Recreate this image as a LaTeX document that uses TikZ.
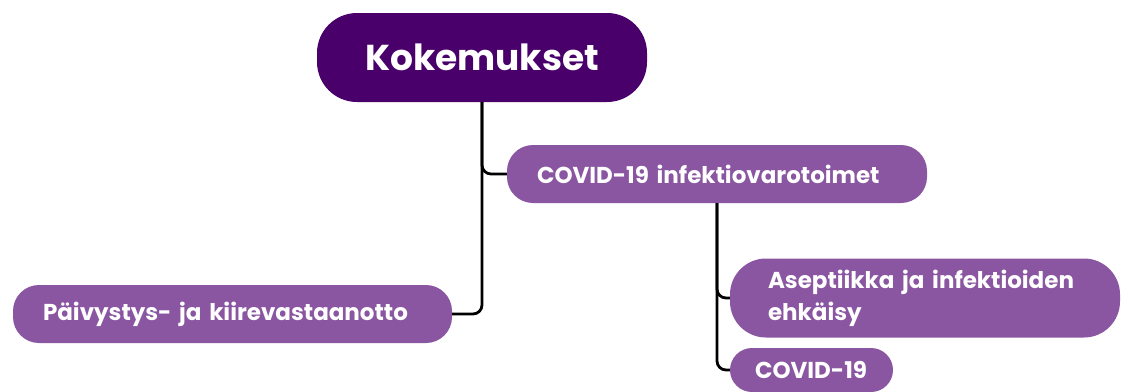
\documentclass[tikz,border=0pt]{standalone}
\usepackage{fontspec}
\setmainfont{Poppins}
\usetikzlibrary{positioning}
\definecolor{deeppurple}{HTML}{4A006B}
\definecolor{softpurple}{HTML}{8A56A1}

\begin{document}
\begin{tikzpicture}[x=1pt, y=-1pt,
  mainbox/.style={rectangle, rounded corners=40pt, fill=deeppurple, text=white, font=\fontsize{36}{40}\selectfont\bfseries, minimum width=330pt, minimum height=89pt},
  subbox/.style={rectangle, rounded corners=26pt, fill=softpurple, text=white, font=\fontsize{23}{32}\selectfont\bfseries, minimum height=58pt, inner xsep=30pt, inner ysep=0pt, align=left},
  link/.style={-, line width=2.8pt, black, rounded corners=9pt}]
\useasboundingbox (0,0) rectangle (1131,391);

\node[mainbox] (koke) at (482,57.5) {Kokemukset};
\node[subbox, text width=360pt] (covid) at (717,174) {COVID-19 infektiovarotoimet};
\node[subbox, text width=379pt] (paiv) at (232.5,314) {Päivystys- ja kiirevastaanotto};
\node[subbox, rounded corners=36pt, inner xsep=38pt, text width=314pt, minimum height=79pt] (asep) at (925,298) {Aseptiikka ja infektioiden\\ehkäisy};
\node[subbox, rounded corners=22pt, inner xsep=25pt, text width=113pt, minimum height=44pt] (cov) at (811.5,370) {COVID-19};

\draw[link] (koke.south) |- (covid.west);
\draw[link] (koke.south) |- (paiv.east);
\draw[link] (covid.south) |- (asep.west);
\draw[link] (covid.south) |- (cov.west);
\end{tikzpicture}
\end{document}
